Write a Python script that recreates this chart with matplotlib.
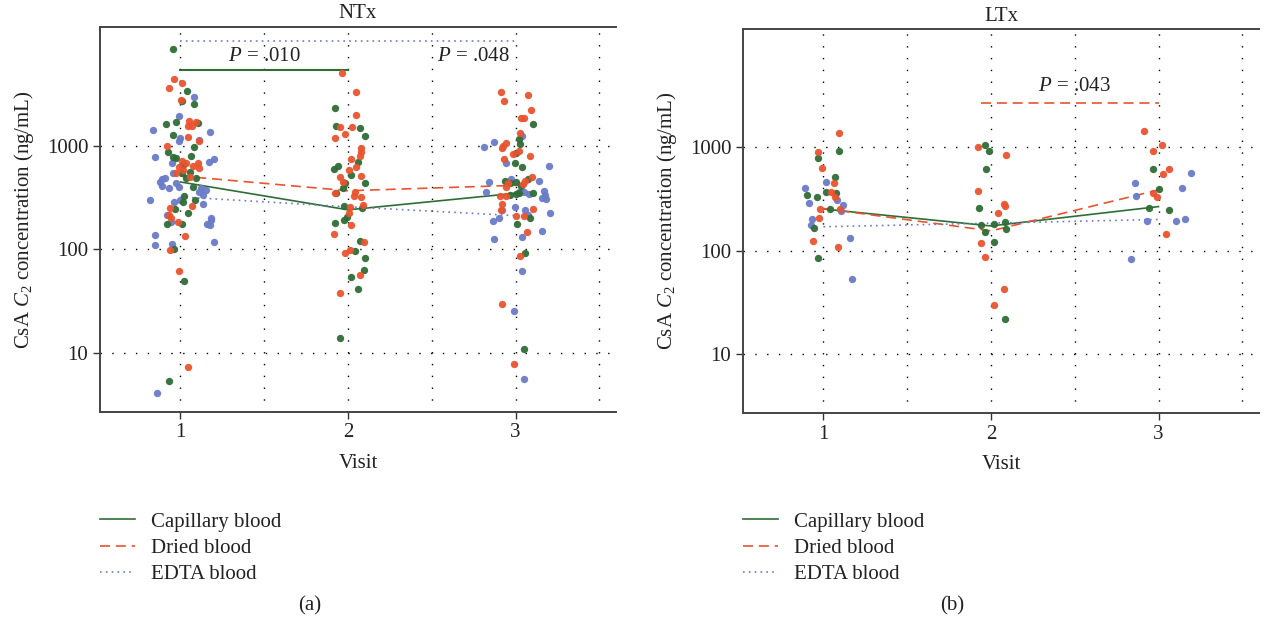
import matplotlib
matplotlib.use("Agg")
import matplotlib.pyplot as plt
from matplotlib.lines import Line2D

plt.rcParams['font.family'] = ['Liberation Serif', 'DejaVu Serif']
plt.rcParams['mathtext.fontset'] = 'custom'
plt.rcParams['mathtext.rm'] = 'Liberation Serif'
plt.rcParams['mathtext.it'] = 'Liberation Serif:italic'

# colours of the three sample types
c_cap = '#2f6d36'
c_dry = '#e9532f'
c_edta = '#6a7bc8'

visits = [1, 2, 3]

# ---- NTx: jittered x position and CsA C2 (ng/mL) ----
ntx_cap_x = [0.954, 1.040, 1.078, 1.010, 0.915, 0.974, 1.103, 0.954, 1.079, 0.924,
             0.954, 0.974, 1.064, 1.014, 1.010, 1.054, 1.034, 1.090, 1.073, 1.024,
             1.014, 1.084, 0.970, 1.044, 0.920, 1.010, 0.960, 1.020, 0.930,
             1.920, 1.930, 2.069, 2.104, 1.939, 1.915, 2.059, 2.019, 1.985, 2.104,
             1.969, 1.930, 1.979, 2.085, 1.993, 1.975, 1.924, 2.069, 2.043, 2.099,
             2.093, 2.019, 2.059, 1.950,
             3.103, 3.020, 3.028, 3.000, 2.994, 3.038, 2.939, 2.964, 3.004, 3.073,
             3.034, 3.000, 2.964, 3.020, 3.103, 3.088, 3.010, 3.054, 3.048]
ntx_cap_y = [8600, 3380, 2510, 2720, 1620, 1680, 1650, 1270, 965, 870,
             783, 755, 800, 651, 548, 561, 491, 484, 402, 329,
             288, 299, 243, 225, 174, 174, 100, 49.7, 5.3,
             2300, 1560, 1470, 1240, 637, 595, 700, 521, 439, 439,
             388, 347, 263, 250, 206, 191, 178, 121, 95, 82,
             63, 54, 41, 13.8,
             1620, 1150, 1040, 845, 676, 627, 459, 433, 449, 473,
             407, 339, 334, 347, 347, 202, 175, 92, 10.9]

ntx_dry_x = [0.960, 0.934, 1.010, 1.005, 1.050, 1.094, 1.044, 1.070, 1.044, 1.110,
             0.918, 1.010, 1.034, 1.103, 0.994, 1.014, 1.074, 1.110, 0.974, 1.054,
             0.940, 0.930, 0.944, 0.984, 1.067, 1.028, 0.940, 0.994, 1.044,
             1.963, 2.049, 2.049, 1.950, 2.025, 1.983, 1.925, 2.075, 2.079, 2.073,
             2.019, 2.049, 2.005, 2.079, 1.953, 1.969, 2.039, 1.920, 2.035, 2.079,
             2.088, 2.009, 2.005, 2.015, 1.915, 2.093, 2.009, 1.981, 2.069, 1.955,
             2.915, 2.933, 3.073, 3.094, 3.034, 3.048, 3.028, 2.944, 2.924, 2.918,
             3.020, 2.984, 3.088, 2.930, 3.097, 3.054, 3.044, 2.954, 2.944, 2.910,
             2.944, 2.918, 2.916, 3.103, 3.004, 3.050, 3.070, 3.028, 2.918, 2.988]
ntx_dry_y = [4390, 3630, 4060, 2750, 1730, 1710, 1550, 1550, 1220, 1120,
             990, 716, 676, 676, 627, 582, 637, 605, 541, 501,
             248, 214, 200, 185, 261, 134, 98, 61, 7.3,
             5010, 3330, 1980, 1530, 1530, 1300, 1180, 944, 875, 795,
             743, 627, 582, 509, 501, 449, 359, 347, 327, 321,
             267, 257, 222, 171, 139, 117, 98, 92, 56, 38,
             3280, 2720, 3090, 2210, 1840, 1840, 1318, 1070, 1000, 944,
             895, 832, 795, 748, 501, 459, 427, 433, 402, 327,
             327, 273, 239, 243, 209, 209, 146, 86, 29.7, 7.8]

ntx_edta_x = [1.078, 0.990, 0.835, 1.177, 1.000, 1.113, 0.990, 0.845, 1.203, 1.173,
              0.948, 0.954, 0.910, 0.890, 0.875, 0.891, 0.974, 0.990, 0.934, 1.124,
              1.153, 1.110, 1.133, 0.820, 0.964, 1.000, 1.183, 1.137, 0.918, 0.944,
              1.185, 1.157, 1.177, 0.847, 0.850, 0.948, 1.203, 0.859,
              3.040, 2.870, 2.811, 2.944, 3.197, 2.974, 2.841, 3.143, 2.825, 3.020,
              3.048, 3.079, 3.167, 3.173, 3.160, 3.184, 2.998, 2.918, 3.058, 3.073,
              2.900, 3.207, 2.865, 3.157, 3.040, 2.869, 3.040, 2.992, 3.050]
ntx_edta_y = [2940, 1950, 1420, 1365, 1190, 1135, 1110, 783, 739, 700,
              685, 541, 484, 473, 449, 407, 439, 402, 388, 388,
              373, 359, 334, 299, 284, 299, 200, 272, 214, 185,
              191, 174, 171, 137, 110, 112, 118, 4.1,
              1240, 1080, 978, 676, 637, 476, 449, 456, 359, 359,
              355, 341, 367, 334, 310, 306, 257, 239, 239, 214,
              202, 225, 188, 150, 132, 125, 61, 25.5, 5.6]

# ---- LTx ----
ltx_cap_x = [1.090, 0.970, 1.070, 1.016, 1.076, 0.900, 0.960, 1.036, 0.944, 0.970,
             1.965, 1.991, 1.971, 1.930, 1.939, 2.019, 2.085, 2.088, 1.965, 2.019, 2.081,
             2.966, 3.004, 2.945, 3.060]
ltx_cap_y = [915, 778, 518, 371, 357, 344, 327, 251, 164, 84,
             1045, 920, 610, 256, 177, 181, 190, 161, 150, 122, 22,
             618, 396, 258, 247]

ltx_dry_x = [1.090, 0.966, 0.994, 1.064, 1.046, 1.070, 0.980, 1.100, 0.974, 0.940, 1.084,
             1.921, 2.088, 1.921, 2.079, 2.081, 2.041, 1.939, 1.965, 2.079, 2.019,
             2.916, 3.020, 2.968, 3.060, 3.026, 2.966, 2.990, 3.044]
ltx_dry_y = [1355, 901, 631, 453, 371, 327, 252, 251, 205, 125, 109,
             994, 837, 380, 280, 270, 232, 119, 87, 43, 30,
             1416, 1046, 921, 614, 553, 357, 332, 145]

ltx_edta_x = [1.016, 0.887, 0.915, 1.080, 1.115, 1.106, 0.934, 0.927, 1.161, 1.169,
              3.191, 2.861, 3.139, 2.864, 2.932, 3.107, 3.159, 2.834]
ltx_edta_y = [463, 405, 287, 308, 276, 242, 204, 176, 132, 53,
              557, 450, 400, 337, 195, 195, 204, 83]

# medians per visit
ntx_cap_med = [446, 240, 347]
ntx_dry_med = [510, 367, 414]
ntx_edta_med = [320, 257, 211]
ltx_cap_med = [252, 173, 266]
ltx_dry_med = [255, 155, 385]
ltx_edta_med = [170, 184, 200]

labels = ['Capillary blood', 'Dried blood', 'EDTA blood']
fs = 15
msize = 28

fig = plt.figure(figsize=(12.65, 6.23), dpi=100)
ax_a = fig.add_axes([0.0791, 0.3392, 0.4079, 0.6180])
ax_b = fig.add_axes([0.5874, 0.3366, 0.4079, 0.6169])


def panel(ax, title, cap, dry, edta, meds, ylim):
    ax.set_yscale('log')
    ax.set_xlim(0.52, 3.6)
    ax.set_ylim(*ylim)
    ax.plot(visits, meds[0], color=c_cap, lw=1.2, ls='-', zorder=2)
    ax.plot(visits, meds[1], color=c_dry, lw=1.2, ls=(0, (6, 3.5)), zorder=2)
    ax.plot(visits, meds[2], color=c_edta, lw=1.2, ls=(0, (1, 2.5)), zorder=2)
    ax.scatter(edta[0], edta[1], s=msize, color=c_edta, lw=0, alpha=0.95, zorder=3)
    ax.scatter(cap[0], cap[1], s=msize, color=c_cap, lw=0, alpha=0.95, zorder=3)
    ax.scatter(dry[0], dry[1], s=msize, color=c_dry, lw=0, alpha=0.95, zorder=3)
    ax.set_xticks(visits)
    ax.set_xticks([1.5, 2.5, 3.5], minor=True)
    ax.set_yticks([10, 100, 1000])
    ax.set_yticklabels(['10', '100', '1000'])
    ax.yaxis.set_minor_locator(plt.NullLocator())
    ax.grid(True, which='both', axis='x', color='k', lw=1, ls=(0, (1, 7.5)))
    ax.grid(True, which='major', axis='y', color='k', lw=1, ls=(0, (1, 7.5)))
    ax.tick_params(axis='x', which='minor', length=0)
    ax.tick_params(axis='both', which='major', length=5, width=1, colors='#333',
                   labelsize=fs, labelcolor='#222', direction='out')
    ax.set_axisbelow(True)
    for s in ['left', 'top', 'bottom']:
        ax.spines[s].set_color('#444')
        ax.spines[s].set_linewidth(1.4)
    ax.spines['right'].set_visible(False)
    ax.set_title(title, fontsize=fs, pad=6, color='#222')
    ax.set_xlabel('Visit', fontsize=fs, labelpad=8, color='#222')
    ax.set_ylabel('CsA $C_2$ concentration (ng/mL)', fontsize=fs, labelpad=8, color='#222')


panel(ax_a, 'NTx', (ntx_cap_x, ntx_cap_y), (ntx_dry_x, ntx_dry_y),
      (ntx_edta_x, ntx_edta_y), (ntx_cap_med, ntx_dry_med, ntx_edta_med),
      (10 ** 0.43, 10 ** 4.15))
panel(ax_b, 'LTx', (ltx_cap_x, ltx_cap_y), (ltx_dry_x, ltx_dry_y),
      (ltx_edta_x, ltx_edta_y), (ltx_cap_med, ltx_dry_med, ltx_edta_med),
      (10 ** 0.431, 10 ** 4.138))

# significance brackets
ax_a.plot([1, 2], [5400, 5400], color=c_cap, lw=1.5, zorder=2)
ax_a.text(1.5, 7200, '$P$ = .010', ha='center', va='center', fontsize=fs, color='#222')
ax_a.plot([1, 3], [10300, 10300], color=c_edta, lw=1.2, ls=(0, (1, 2.5)), zorder=2)
ax_a.text(2.75, 7200, '$P$ = .048', ha='center', va='center', fontsize=fs, color='#222')
ax_b.plot([1.94, 3], [2640, 2640], color=c_dry, lw=1.2, ls=(0, (6, 3.5)), zorder=2)
ax_b.text(2.5, 3800, '$P$ = .043', ha='center', va='center', fontsize=fs, color='#222')

handles = [Line2D([], [], color=c_cap, lw=1.2),
           Line2D([], [], color=c_dry, lw=1.2, ls=(0, (6, 3.5))),
           Line2D([], [], color=c_edta, lw=1.2, ls=(0, (1, 2.5)))]
for x0 in [100 / 1265, 743 / 1265]:
    fig.legend(handles, labels, loc='upper left', bbox_to_anchor=(x0, 1 - 512 / 623),
               frameon=False, fontsize=fs, handlelength=1.7, handletextpad=0.75,
               labelspacing=0.32, borderpad=0, borderaxespad=0, labelcolor='#222')

fig.text(310 / 1265, 1 - 606 / 623, '(a)', ha='center', va='center', fontsize=fs, color='#222')
fig.text(952 / 1265, 1 - 606 / 623, '(b)', ha='center', va='center', fontsize=fs, color='#222')

fig.savefig('out.png', dpi=100, facecolor='white')
